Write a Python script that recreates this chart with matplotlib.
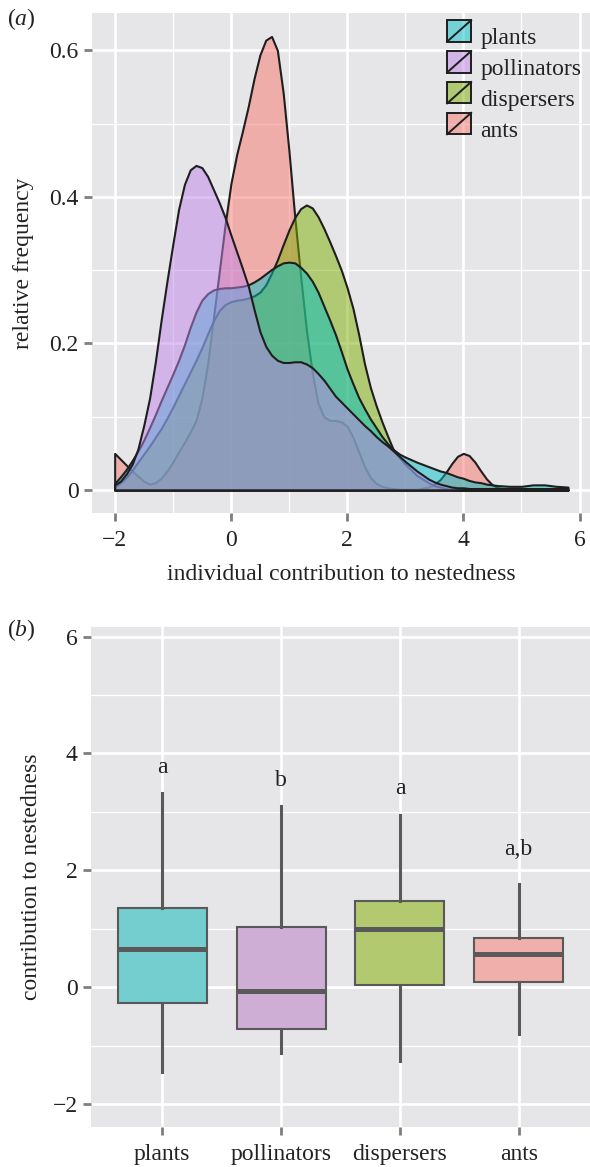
import numpy as np
import matplotlib
matplotlib.use('Agg')
import matplotlib.pyplot as plt
from matplotlib.patches import Rectangle, Patch
from matplotlib.lines import Line2D
from matplotlib.colors import to_rgba

plt.rcParams['font.family'] = ['Liberation Serif', 'DejaVu Serif']
plt.rcParams['mathtext.fontset'] = 'custom'
plt.rcParams['mathtext.rm'] = 'Liberation Serif'
plt.rcParams['mathtext.it'] = 'Liberation Serif:italic'

# ---- data ----
groups = ['plants', 'pollinators', 'dispersers', 'ants']
group_colors = ['#00BFC4', '#C084E8', '#7CAE00', '#F8766D']
box_colors = ['#74CECF', '#CFAED6', '#B2C970', '#F0AFAA']
draw_order = ['ants', 'dispersers', 'plants', 'pollinators']

# density curves
dens_x = [-2.0, -1.9, -1.8, -1.7, -1.6, -1.5, -1.4, -1.3, -1.2, -1.1,
          -1.0, -0.9, -0.8, -0.7, -0.6, -0.5, -0.4, -0.3, -0.2, -0.1,
          0.0, 0.1, 0.2, 0.3, 0.4, 0.5, 0.6, 0.7, 0.8, 0.9,
          1.0, 1.1, 1.2, 1.3, 1.4, 1.5, 1.6, 1.7, 1.8, 1.9,
          2.0, 2.1, 2.2, 2.3, 2.4, 2.5, 2.6, 2.7, 2.8, 2.9,
          3.0, 3.2, 3.4, 3.5, 3.6, 3.7, 3.8, 3.9, 4.0, 4.1,
          4.2, 4.3, 4.4, 4.5, 4.6, 4.8, 5.0, 5.2, 5.4, 5.6, 5.8]

dens_plants = [0.009, 0.018, 0.028, 0.040, 0.053, 0.068, 0.085, 0.103, 0.122, 0.140,
               0.158, 0.177, 0.198, 0.222, 0.243, 0.259, 0.268, 0.273, 0.275, 0.276,
               0.276, 0.277, 0.278, 0.280, 0.284, 0.289, 0.295, 0.301, 0.306, 0.310,
               0.311, 0.310, 0.304, 0.296, 0.285, 0.270, 0.251, 0.232, 0.212, 0.189,
               0.165, 0.145, 0.126, 0.111, 0.097, 0.085, 0.073, 0.063, 0.055, 0.049,
               0.045, 0.038, 0.032, 0.029, 0.026, 0.024, 0.021, 0.018, 0.016, 0.013,
               0.011, 0.010, 0.008, 0.007, 0.006, 0.005, 0.005, 0.007, 0.007, 0.005, 0.004]

dens_pollinators = [0.007, 0.012, 0.022, 0.035, 0.056, 0.088, 0.125, 0.175, 0.232, 0.285,
                    0.335, 0.383, 0.417, 0.437, 0.443, 0.440, 0.428, 0.410, 0.392, 0.372,
                    0.348, 0.325, 0.302, 0.278, 0.246, 0.216, 0.196, 0.184, 0.177, 0.174,
                    0.174, 0.175, 0.175, 0.172, 0.167, 0.159, 0.150, 0.139, 0.128, 0.120,
                    0.112, 0.104, 0.096, 0.088, 0.081, 0.073, 0.066, 0.060, 0.053, 0.046,
                    0.039, 0.026, 0.015, 0.011, 0.008, 0.006, 0.004, 0.003, 0.003, 0.002,
                    0.002, 0.002, 0.002, 0.002, 0.002, 0.002, 0.002, 0.002, 0.002, 0.002, 0.002]

dens_dispersers = [0.004, 0.010, 0.017, 0.027, 0.038, 0.049, 0.060, 0.072, 0.084, 0.098,
                   0.113, 0.129, 0.145, 0.161, 0.177, 0.194, 0.213, 0.231, 0.245, 0.253,
                   0.257, 0.259, 0.260, 0.262, 0.265, 0.270, 0.280, 0.296, 0.314, 0.335,
                   0.355, 0.372, 0.384, 0.389, 0.385, 0.373, 0.357, 0.339, 0.320, 0.300,
                   0.276, 0.248, 0.212, 0.172, 0.140, 0.115, 0.093, 0.073, 0.054, 0.044,
                   0.035, 0.020, 0.010, 0.006, 0.004, 0.002, 0.001, 0.0, 0.0, 0.0,
                   0.0, 0.0, 0.0, 0.0, 0.0, 0.0, 0.0, 0.0, 0.0, 0.0, 0.0]

dens_ants = [0.050, 0.042, 0.034, 0.026, 0.019, 0.012, 0.008, 0.010, 0.016, 0.026,
             0.038, 0.052, 0.065, 0.079, 0.095, 0.125, 0.172, 0.235, 0.298, 0.362,
             0.418, 0.458, 0.490, 0.524, 0.562, 0.594, 0.614, 0.619, 0.600, 0.542,
             0.462, 0.372, 0.292, 0.218, 0.160, 0.118, 0.100, 0.095, 0.095, 0.093,
             0.087, 0.072, 0.052, 0.032, 0.017, 0.009, 0.005, 0.003, 0.002, 0.001,
             0.001, 0.001, 0.004, 0.008, 0.014, 0.024, 0.036, 0.046, 0.050, 0.047,
             0.038, 0.026, 0.015, 0.007, 0.003, 0.001, 0.0, 0.0, 0.0, 0.0, 0.0]

dens = {'plants': dens_plants, 'pollinators': dens_pollinators,
        'dispersers': dens_dispersers, 'ants': dens_ants}

# boxplot summaries
box_q1 = [-0.27, -0.71, 0.03, 0.08]
box_med = [0.65, -0.07, 0.99, 0.56]
box_q3 = [1.36, 1.03, 1.48, 0.84]
whisker_lo = [-1.45, -1.12, -1.26, -0.81]
whisker_hi = [3.33, 3.10, 2.95, 1.76]
letters = ['a', 'b', 'a', 'a,b']
letter_y = [3.67, 3.44, 3.31, 2.26]

panel_bg = '#E6E6E8'
txt = '#222222'
tick_col = '#7f7f7f'
outline = '#1e1e1e'
fs = 17


class KeyHandler:
    def legend_artist(self, legend, orig_handle, fontsize, handlebox):
        x0, y0 = handlebox.xdescent, handlebox.ydescent
        w, h = handlebox.width, handlebox.height
        rect = Rectangle((x0, y0), w, h, facecolor=orig_handle.get_facecolor(),
                         edgecolor=outline, lw=1.4, transform=handlebox.get_transform())
        diag = Line2D([x0, x0 + w], [y0, y0 + h], color=outline, lw=1.4,
                      transform=handlebox.get_transform())
        handlebox.add_artist(rect)
        handlebox.add_artist(diag)
        return rect


def style_axes(ax):
    ax.set_facecolor(panel_bg)
    for s in ax.spines.values():
        s.set_visible(False)
    ax.set_axisbelow(True)
    ax.grid(which='major', color='white', lw=1.9)
    ax.grid(which='minor', color='white', lw=0.9)
    ax.tick_params(which='major', direction='out', length=5.5, width=2,
                   color=tick_col, labelsize=fs, labelcolor=txt, pad=4)
    ax.tick_params(axis='x', which='major', pad=7)
    ax.tick_params(which='minor', length=0)


fig = plt.figure(figsize=(5.9, 11.67), dpi=100)
W, H = 590.0, 1167.0

# ---- panel (a) ----
ax1 = fig.add_axes([92 / W, 1 - 512.7 / H, 498 / W, 499.7 / H])
style_axes(ax1)
ax1.set_xlim(-2.39, 6.18)
ax1.set_ylim(-0.031, 0.651)
ax1.set_xticks([-2, 0, 2, 4, 6])
ax1.set_xticks([-1, 1, 3, 5], minor=True)
ax1.set_yticks([0, 0.2, 0.4, 0.6])
ax1.set_yticklabels(['0', '0.2', '0.4', '0.6'])
ax1.set_yticks([0.1, 0.3, 0.5], minor=True)

for k, name in enumerate(draw_order):
    c = group_colors[groups.index(name)]
    ax1.fill_between(dens_x, dens[name], 0, facecolor=to_rgba(c, 0.5),
                     edgecolor=outline, lw=1.5, joinstyle='round', zorder=2 + k)

handles = [Patch(facecolor=to_rgba(c, 0.5)) for c in group_colors]
leg = ax1.legend(handles, groups, handler_map={Patch: KeyHandler()},
                 loc='upper left', bbox_to_anchor=(0.713, 0.975), frameon=False,
                 fontsize=fs, handlelength=1.02, handleheight=1.02,
                 handletextpad=0.4, labelspacing=0.3, borderpad=0, borderaxespad=0)
for t in leg.get_texts():
    t.set_color(txt)

# ---- panel (b) ----
ax2 = fig.add_axes([91 / W, 1 - 1126.7 / H, 499 / W, 499.7 / H])
style_axes(ax2)
ax2.set_xlim(0.4, 4.6)
ax2.set_ylim(-2.39, 6.165)
ax2.set_yticks([-2, 0, 2, 4, 6])
ax2.set_yticks([-1, 1, 3, 5], minor=True)

stats = []
for i, g in enumerate(groups):
    stats.append(dict(label=g, med=box_med[i], q1=box_q1[i], q3=box_q3[i],
                      whislo=whisker_lo[i], whishi=whisker_hi[i], fliers=[]))
pos = [1, 2, 3, 4]
bp = ax2.bxp(stats, positions=pos, widths=0.75, patch_artist=True,
             showcaps=False, showfliers=False,
             boxprops=dict(edgecolor='#595959', lw=1.5),
             medianprops=dict(color='#595959', lw=3.6, solid_capstyle='butt'),
             whiskerprops=dict(color='#595959', lw=2.2))
for b, c in zip(bp['boxes'], box_colors):
    b.set_facecolor(c)
ax2.set_xticks(pos)
ax2.set_xticklabels(groups)

for p, s, yv in zip(pos, letters, letter_y):
    ax2.text(p, yv, s, ha='center', va='baseline', fontsize=fs, color=txt)

# ---- titles ----
fig.text(24 / W, 1 - 263 / H, 'relative frequency', rotation=90, ha='center',
         va='center', fontsize=fs, color=txt)
fig.text(341 / W, 1 - 580 / H, 'individual contribution to nestedness',
         ha='center', va='baseline', fontsize=fs, color=txt)
fig.text(32 / W, 1 - 877 / H, 'contribution to nestedness', rotation=90,
         ha='center', va='center', fontsize=fs, color=txt)
fig.text(7 / W, 1 - 19 / H, r'($\mathit{a}$)', ha='left', va='center',
         fontsize=fs, color=txt)
fig.text(7 / W, 1 - 630 / H, r'($\mathit{b}$)', ha='left', va='center',
         fontsize=fs, color=txt)

fig.savefig('out.png', dpi=100)
